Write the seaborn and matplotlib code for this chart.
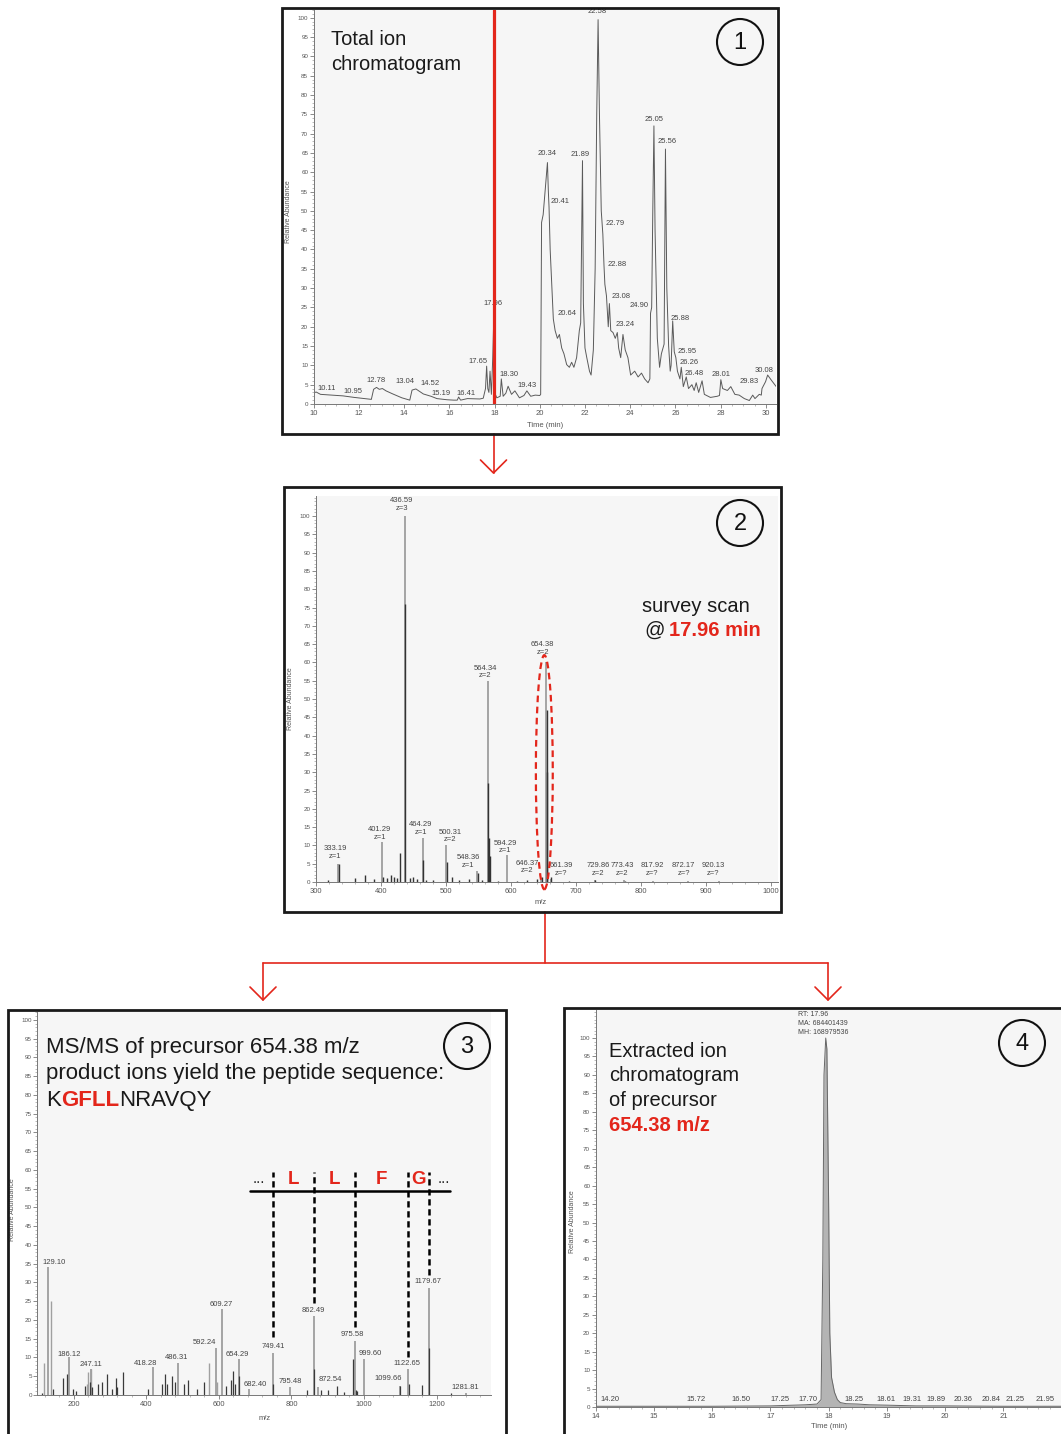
import numpy as np
import seaborn as sns
import matplotlib.pyplot as plt
from matplotlib.patches import Rectangle, Ellipse
from matplotlib.lines import Line2D
from matplotlib.ticker import MultipleLocator

W, H = 1061, 1434
RED = '#e3261b'
INK = '#444444'

# ---- panel 1: total ion chromatogram (min, relative abundance)
tic_time = [10.0, 10.11, 10.3, 10.8, 11.3, 11.8, 12.4, 12.55, 12.65, 12.78,
            12.9, 13.04, 13.2, 13.5, 13.9, 14.25, 14.35, 14.52, 14.85, 15.19,
            15.45, 15.9, 16.2, 16.35, 16.41, 16.5, 16.8, 17.35, 17.5, 17.6,
            17.65, 17.7, 17.75, 17.8, 17.86, 17.92, 17.96, 18.0, 18.1, 18.25,
            18.3, 18.38, 18.5, 18.6, 18.75, 18.9, 19.1, 19.3, 19.43, 19.6,
            19.8, 20.0, 20.04, 20.08, 20.15, 20.25, 20.34, 20.38, 20.41, 20.46,
            20.6, 20.64, 20.68, 20.78, 20.87, 20.97, 21.07, 21.19, 21.31, 21.41,
            21.51, 21.63, 21.75, 21.81, 21.89, 21.93, 22.0, 22.08, 22.2, 22.27,
            22.37, 22.45, 22.52, 22.58, 22.64, 22.72, 22.79, 22.84, 22.88, 22.95,
            23.03, 23.08, 23.14, 23.24, 23.34, 23.43, 23.49, 23.58, 23.68, 23.78,
            23.9, 24.02, 24.2, 24.35, 24.5, 24.64, 24.79, 24.87, 24.9, 24.95,
            25.0, 25.05, 25.1, 25.2, 25.3, 25.38, 25.5, 25.56, 25.62, 25.7,
            25.77, 25.81, 25.88, 25.95, 26.02, 26.09, 26.2, 26.26, 26.35, 26.48,
            26.58, 26.73, 26.83, 26.92, 27.03, 27.18, 27.28, 27.55, 27.85, 27.95,
            28.01, 28.09, 28.3, 28.45, 28.63, 28.82, 29.05, 29.27, 29.42, 29.52,
            29.71, 29.8, 29.83, 29.99, 30.08, 30.24, 30.46]
tic_abund = [2.9, 3.1, 2.5, 2.3, 2.1, 1.7, 1.3, 1.2, 3.8, 4.3,
             3.8, 4.0, 3.4, 2.6, 1.6, 1.0, 3.6, 3.9, 2.6, 2.0,
             1.4, 1.1, 1.0, 1.0, 1.8, 1.0, 1.4, 1.3, 1.5, 4.0,
             9.8, 4.0, 3.0, 8.5, 2.5, 12.0, 21.0, 3.0, 1.6, 2.0,
             6.5, 2.0, 2.8, 4.6, 2.5, 3.4, 1.6, 2.2, 3.4, 2.0,
             2.3, 2.2, 2.5, 47.0, 49.0, 56.0, 62.5, 55.0, 51.0, 40.0,
             22.0, 20.5, 19.0, 17.0, 18.0, 14.5, 13.0, 10.2, 9.5, 10.8,
             9.5, 12.0, 19.0, 21.0, 63.0, 26.0, 14.5, 12.0, 8.5, 7.5,
             14.0, 35.0, 75.0, 99.5, 75.0, 50.0, 44.0, 36.0, 31.0, 28.0,
             20.0, 26.0, 19.0, 18.5, 17.0, 18.5, 14.5, 12.0, 18.0, 14.0,
             12.0, 7.5, 8.5, 7.0, 8.0, 6.5, 5.5, 6.5, 23.5, 25.0,
             50.0, 72.0, 45.0, 17.0, 9.5, 13.0, 15.5, 66.0, 30.0, 15.0,
             8.5, 10.0, 21.5, 13.5, 12.0, 8.5, 6.5, 9.5, 4.5, 7.0,
             4.0, 5.0, 3.5, 5.5, 3.0, 6.0, 2.5, 1.7, 2.0, 2.2,
             6.3, 4.0, 3.5, 4.5, 2.5, 2.3, 1.4, 0.9, 2.3, 1.4,
             2.5, 2.3, 4.0, 5.8, 7.5, 6.2, 4.5]
tic_labels = ['10.11', '10.95', '12.78', '13.04', '14.52', '15.19', '16.41', '17.65',
              '17.96', '18.30', '19.43', '20.34', '20.41', '20.64', '21.89', '22.58',
              '22.79', '22.88', '23.08', '23.24', '24.90', '25.05', '25.56', '25.88',
              '25.95', '26.26', '26.48', '28.01', '29.83', '30.08']
tic_label_x = [10.59, 11.74, 12.76, 14.03, 15.14, 15.62, 16.74, 17.26,
               17.93, 18.64, 19.44, 20.32, 20.92, 21.19, 21.8, 22.56,
               23.33, 23.42, 23.61, 23.77, 24.38, 25.04, 25.63, 26.22,
               26.5, 26.6, 26.83, 28.0, 29.28, 29.91]
tic_label_y = [4.1, 3.2, 6.0, 5.7, 5.2, 2.8, 2.8, 11.0,
               26.1, 7.7, 4.8, 64.8, 52.4, 23.5, 64.6, 101.5,
               46.8, 36.0, 27.8, 20.7, 25.5, 73.7, 68.0, 22.2,
               13.6, 10.7, 7.8, 7.7, 5.8, 8.8]
precursor_rt = 17.96

# ---- panel 2: survey scan at 17.96 min
survey_mz = [333.19, 401.29, 436.59, 464.29, 500.31, 548.36, 564.34, 594.29,
             646.37, 654.38, 661.39, 729.86, 773.43, 817.92, 872.17, 920.13]
survey_int = [5, 11, 100, 12, 10, 3, 55, 7.5, 1, 60, 0.8, 0.5, 0.5, 0.3, 0.3, 0.3]
survey_z = ['z=1', 'z=1', 'z=3', 'z=1', 'z=2', 'z=1', 'z=2', 'z=1',
            'z=2', 'z=2', 'z=?', 'z=2', 'z=2', 'z=?', 'z=?', 'z=?']
survey_label_x = [330, 398, 432, 461.5, 506, 534, 560, 591,
                  625, 649, 677, 734, 771, 817, 866, 911]
survey_label_y = [8.0, 13.3, 103.1, 14.7, 12.6, 5.7, 57.4, 9.6,
                  4.1, 63.8, 3.4, 3.4, 3.4, 3.4, 3.4, 3.4]
survey_minor_mz = [318, 335, 360, 376, 390, 403, 410, 415, 420, 425, 430, 437.6,
                   445, 450, 455, 465.3, 470, 480, 501.3, 510, 520, 535, 549.4, 555,
                   565.3, 566.3, 567.3, 580, 610, 625, 640, 648, 655.4, 655.9, 662,
                   690, 730, 775]
survey_minor_int = [0.5, 5, 1, 2, 0.8, 1.5, 1, 2, 1.5, 1.2, 8, 76,
                    1, 1.5, 0.8, 6, 0.5, 0.6, 5.5, 1.5, 0.5, 0.7, 2.5, 0.6,
                    27, 12, 7, 0.4, 0.3, 0.5, 0.8, 1.5, 47, 30, 1.5,
                    0.3, 0.5, 0.4]
precursor_mz = 654.38

# ---- panel 3: MS/MS of precursor 654.38
msms_mz = [129.10, 186.12, 247.11, 418.28, 486.31, 592.24, 609.27, 654.29, 682.40, 749.41,
           795.48, 862.49, 872.54, 975.58, 999.60, 1099.66, 1122.65, 1179.67, 1281.81]
msms_int = [34, 10, 7, 7.5, 8.5, 12.5, 23, 9.5, 1.5, 11.2,
            2.2, 21, 2.2, 14.3, 9.7, 2.4, 6.9, 28.6, 0.6]
msms_label_x = [146, 187, 248, 399, 484, 561, 608, 650, 699, 749,
                796, 859, 906, 969, 1016, 1068, 1118, 1176, 1278]
msms_label_y = [35.3, 10.7, 8.2, 8.4, 10.1, 14.0, 24.2, 10.7, 2.7, 12.9,
                3.7, 22.4, 4.0, 16.0, 11.0, 4.3, 8.5, 30.2, 2.1]
msms_light_mz = [118, 137, 236, 240, 248.5, 574, 595]
msms_light_int = [8.5, 25, 3, 6, 7, 8.5, 3.5]
msms_minor_mz = [112, 143, 170, 181, 197, 207, 231, 245, 250,
                 267, 278, 293, 306, 317, 320, 337, 405, 442, 452, 456, 470, 480,
                 503, 515, 541, 558, 621, 634, 638, 645, 656, 750.5, 842,
                 863.5, 882, 900, 925, 945, 970, 977, 980, 1100.5, 1124, 1160,
                 1180.5, 1240]
msms_minor_int = [0.5, 1.5, 4.5, 5.5, 1.5, 1, 2.5, 3.5, 2,
                  3, 3.5, 5.5, 1.5, 4.5, 2, 6, 1.5, 3, 5.5, 3, 5, 3.5,
                  3, 4, 1.5, 3.5, 2.5, 4, 6.5, 3, 5, 3, 1.3,
                  7, 1.3, 1.3, 2.4, 0.9, 9.5, 1.3, 1, 2.4, 3, 2.7,
                  12.5, 0.5]
ladder_mz = [749.41, 862.49, 975.58, 1122.65, 1179.67]
ladder_residues = ['L', 'L', 'F', 'G']
ladder_bottom = [15.5, 24.5, 18.0, 10.0, 32.0]

# ---- panel 4: extracted ion chromatogram of 654.38
xic_time = [14.0, 15.0, 16.0, 17.0, 17.6, 17.8, 17.87, 17.9, 17.92, 17.95, 17.97,
            18.0, 18.02, 18.05, 18.1, 18.15, 18.2, 18.3, 18.5, 18.7, 19.0, 19.5,
            20.0, 21.0, 22.0]
xic_abund = [0.2, 0.2, 0.2, 0.3, 0.6, 0.8, 2.0, 40.0, 90.0, 100.0, 97.0,
             55.0, 20.0, 8.0, 4.0, 2.0, 1.2, 0.9, 0.8, 0.6, 0.5, 0.3,
             0.3, 0.2, 0.2]
xic_labels = ['14.20', '15.72', '16.50', '17.25', '17.70', '18.25', '18.61',
              '19.31', '19.89', '20.36', '20.84', '21.25', '21.95']
xic_label_x = [14.25, 15.72, 16.49, 17.16, 17.64, 18.43, 18.99,
               19.43, 19.84, 20.30, 20.79, 21.21, 21.71]
xic_info = ['RT: 17.96', 'MA: 684401439', 'MH: 168979536']

sns.set_style('ticks')
plt.rcParams['font.family'] = ['Liberation Sans', 'DejaVu Sans']

fig = plt.figure(figsize=(W / 100, H / 100), dpi=100)


def fxy(px, py):
    return px / W, 1 - py / H


def add_ax(x0, y0, x1, y1):
    return fig.add_axes([x0 / W, 1 - y1 / H, (x1 - x0) / W, (y1 - y0) / H])


def box(x0, y0, x1, y1):
    fig.add_artist(Rectangle(fxy(x0, y1), (x1 - x0) / W, (y1 - y0) / H,
                             transform=fig.transFigure, fc='white', ec='none', zorder=-1))
    fig.add_artist(Rectangle(fxy(x0, y1), (x1 - x0) / W, (y1 - y0) / H,
                             transform=fig.transFigure, fc='none', ec='#1a1a1a',
                             lw=2, zorder=10))


def number(cx, cy, n):
    fig.add_artist(Ellipse(fxy(cx, cy), 46 / W, 46 / H, transform=fig.transFigure,
                           fc='none', ec='#111', lw=1.5, zorder=11))
    fig.text(*fxy(cx, cy + 1), n, fontsize=17, ha='center', va='center', color='#111')


def style(ax, xlim, ylim, xmaj, xmin_):
    ax.set_xlim(*xlim)
    ax.set_ylim(*ylim)
    ax.set_facecolor('#f6f6f6')
    ax.yaxis.set_major_locator(MultipleLocator(5))
    ax.yaxis.set_minor_locator(MultipleLocator(1))
    ax.xaxis.set_major_locator(MultipleLocator(xmaj))
    ax.xaxis.set_minor_locator(MultipleLocator(xmin_))
    ax.set_yticks(np.arange(0, 101, 5))
    ax.tick_params(which='major', length=3, width=0.6, color='#777', labelcolor='#555', pad=1)
    ax.tick_params(which='minor', length=1.5, width=0.4, color='#888')
    ax.tick_params(axis='y', labelsize=4.5)
    ax.tick_params(axis='x', labelsize=5.5)
    for s in ['top', 'right']:
        ax.spines[s].set_visible(False)
    for s in ['left', 'bottom']:
        ax.spines[s].set_color('#777')
        ax.spines[s].set_linewidth(0.7)
    ax.set_xlabel('')
    ax.set_ylabel('')


def text_run(px, py, parts, size=14.5):
    r = fig.canvas.get_renderer()
    for s, color, weight in parts:
        t = fig.text(*fxy(px, py), s, color=color, fontweight=weight, fontsize=size,
                     ha='left', va='baseline')
        px += t.get_window_extent(r).width


def axis_text(px, py, s, rot=0, size=5):
    fig.text(*fxy(px, py), s, rotation=rot, fontsize=size, color='#555',
             ha='center', va='center')


def chevron(px, tip):
    fig.add_artist(Line2D([(px - 13) / W, px / W, (px + 13) / W],
                          [1 - (tip - 13) / H, 1 - tip / H, 1 - (tip - 13) / H],
                          transform=fig.transFigure, color=RED, lw=1.2))


def seg(x0, y0, x1, y1, lw=1.2):
    fig.add_artist(Line2D([x0 / W, x1 / W], [1 - y0 / H, 1 - y1 / H],
                          transform=fig.transFigure, color=RED, lw=lw))


# panel boxes
box(282, 8, 778, 434)
box(284, 487, 781, 912)
box(8, 1010, 506, 1445)
box(564, 1008, 1075, 1445)

# ---------------- panel 1
ax1 = add_ax(313.7, 10, 776, 404)
sns.lineplot(x=tic_time, y=tic_abund, ax=ax1, color='#5a5a5a', linewidth=0.7, estimator=None)
style(ax1, (10, 30.45), (0, 102), 2, 0.5)
ax1.axvline(precursor_rt, color=RED, lw=2.3, zorder=5)
for s, x, y in zip(tic_labels, tic_label_x, tic_label_y):
    ax1.text(x, y, s, fontsize=5.5, color=INK, ha='center', va='center', clip_on=False)
axis_text(288, 212, 'Relative Abundance', rot=90)
axis_text(545, 426, 'Time (min)', size=5.5)
text_run(331, 45, [('Total ion', '#1a1a1a', 'normal')])
text_run(331, 70.5, [('chromatogram', '#1a1a1a', 'normal')])
number(740, 42, '1')

# ---------------- panel 2
ax2 = add_ax(316, 496, 778, 882)
ax2.vlines(survey_mz, 0, survey_int, colors='#8e8e8e', lw=1.1)
ax2.vlines(survey_minor_mz, 0, survey_minor_int, colors='#333333', lw=1.0)
style(ax2, (300, 1011), (0, 105.5), 100, 20)
for m, z, x, y in zip(survey_mz, survey_z, survey_label_x, survey_label_y):
    ax2.text(x, y, f'{m:.2f}\n{z}', fontsize=5.5, color=INK, ha='center', va='center',
             linespacing=1.15, clip_on=False)
ax2.add_patch(Ellipse((precursor_mz - 3, 30), 26, 64, fill=False, ec=RED, lw=1.6,
                      ls=(0, (3, 2)), clip_on=False, zorder=6))
axis_text(290, 699, 'Relative Abundance', rot=90)
axis_text(541, 903, 'm/z', size=5.5)
text_run(642, 612, [('survey scan', '#1a1a1a', 'normal')])
text_run(644, 636, [('@', '#1a1a1a', 'normal')])
text_run(669, 636, [('17.96 min', RED, 'bold')])
number(740, 523, '2')

# ---------------- panel 3
ax3 = add_ax(37.4, 1012, 491, 1395)
ax3.vlines(msms_mz, 0, msms_int, colors='#8e8e8e', lw=1.1)
ax3.vlines(msms_light_mz, 0, msms_light_int, colors='#a0a0a0', lw=1.0)
ax3.vlines(msms_minor_mz, 0, msms_minor_int, colors='#3a3a3a', lw=0.9)
style(ax3, (100, 1350), (0, 102.1), 200, 40)
for m, x, y in zip(msms_mz, msms_label_x, msms_label_y):
    ax3.text(x, y, f'{m:.2f}', fontsize=5.5, color=INK, ha='center', va='center', clip_on=False)
ax3.vlines(ladder_mz, ladder_bottom, 59.5, colors='black', lw=1.8, ls=(0, (2.5, 1.5)), zorder=6)
ax3.plot([ladder_mz[0] - 63, ladder_mz[-1] + 57], [54.4, 54.4], color='black', lw=1.8, zorder=6)
mids = [(a + b) / 2 for a, b in zip(ladder_mz[:-1], ladder_mz[1:])]
for x, r in zip(mids, ladder_residues):
    ax3.text(x, 57.5, r, color=RED, fontsize=13.5, fontweight='bold', ha='center', va='center')
ax3.text(ladder_mz[0] - 38, 57.5, '...', fontsize=11, ha='center', va='center')
ax3.text(ladder_mz[-1] + 40, 57.5, '...', fontsize=11, ha='center', va='center')
axis_text(13, 1210, 'Relative Abundance', rot=90)
axis_text(265, 1418, 'm/z', size=5.5)
text_run(46, 1053, [('MS/MS of precursor 654.38 m/z', '#1a1a1a', 'normal')], size=16)
text_run(46, 1079.5, [('product ions yield the peptide sequence:', '#1a1a1a', 'normal')], size=16)
text_run(46, 1106, [('K', '#1a1a1a', 'normal'), ('GFLL', RED, 'bold'),
                    ('NRAVQY', '#1a1a1a', 'normal')], size=16)
number(467, 1046, '3')

# ---------------- panel 4
ax4 = add_ax(595.7, 1010, 1061, 1407)
ax4.fill_between(xic_time, xic_abund, color='#b4b4b4', lw=0)
sns.lineplot(x=xic_time, y=xic_abund, ax=ax4, color='#666666', linewidth=0.7, estimator=None)
style(ax4, (14, 21.99), (0, 107.6), 1, 0.2)
for s, x in zip(xic_labels, xic_label_x):
    ax4.text(x, 1.9, s, fontsize=5.5, color=INK, ha='center', va='center')
for i, s in enumerate(xic_info):
    ax4.text(17.47, 106.5 - 2.45 * i, s, fontsize=5, color=INK, ha='left', va='center',
             clip_on=False)
axis_text(572, 1222, 'Relative Abundance', rot=90)
axis_text(829, 1427, 'Time (min)', size=5.5)
text_run(609, 1057, [('Extracted ion', '#1a1a1a', 'normal')])
text_run(609, 1081, [('chromatogram', '#1a1a1a', 'normal')])
text_run(609, 1106, [('of precursor', '#1a1a1a', 'normal')])
text_run(609, 1131, [('654.38 m/z', RED, 'bold')])
number(1022, 1043, '4')

# connectors
seg(493.5, 434, 493.5, 473)
chevron(493.5, 473)
seg(545, 912, 545, 963)
seg(263, 963, 828, 963)
seg(263, 963, 263, 1000)
seg(828, 963, 828, 1000)
chevron(263, 1000)
chevron(828, 1000)

fig.savefig('out.png', dpi=100)
